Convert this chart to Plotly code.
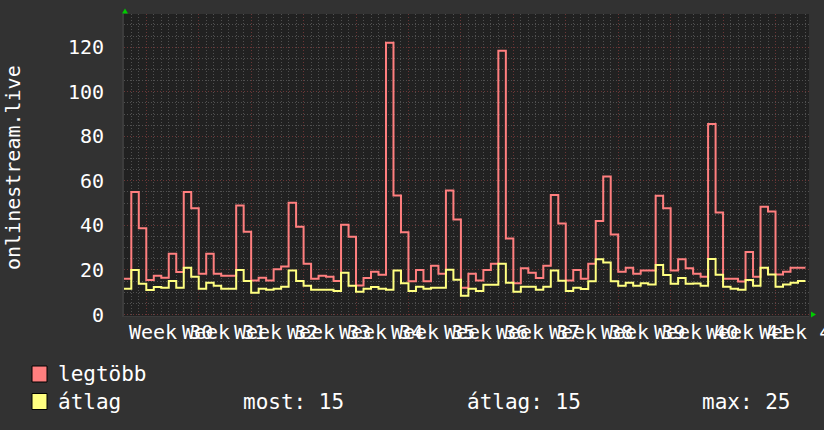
import plotly.graph_objects as go

# daily steps, x = day index (step k starts at day k-1)
days = list(range(-1, 90))
legtobb = [16, 55, 38.7, 15.5, 17.4, 16.5, 27.3, 19.1, 55, 47.7,
           18.3, 27.3, 18.3, 17.4, 17.4, 48.9, 37.2, 15.3, 16.5, 15.3,
           20.3, 21.6, 50.2, 39.4, 22.8, 16.1, 17.4, 17, 15, 40.3,
           34.9, 13, 16.4, 19.2, 17.9, 122, 53.4, 36.9, 14.9, 20,
           14.9, 21.9, 18.3, 55.7, 42.7, 12, 18.3, 15.3, 20, 22.8,
           118.4, 34.1, 14, 20.8, 18.8, 16.4, 21.9, 53.6, 40.8, 15.3,
           20, 16.1, 22.8, 42, 61.9, 35.9, 19.2, 21, 18.3, 19.7,
           19.7, 53.3, 47.7, 19.7, 24.8, 20.8, 18.3, 17, 85.5, 45.8,
           16.1, 16.1, 14.8, 28.1, 17, 48.4, 46.2, 18, 19.2, 21, 21]
atlag = [11.6, 20, 13.8, 11, 12.3, 12, 15, 12, 21, 17,
         11.6, 14.3, 12.9, 11.6, 11.6, 20, 15, 9.8, 11.6, 11.1,
         11.6, 12.5, 19.7, 15, 12.9, 11.1, 11.1, 11.1, 10.5, 18.8,
         12.9, 10.2, 11.6, 12.3, 11.6, 11.1, 19.7, 14, 10.6, 12.5,
         11.6, 12, 12, 20.1, 15.6, 8.4, 11.6, 10.6, 13.4, 13.4,
         22.8, 14.3, 10.2, 12.5, 12.5, 11.1, 12.5, 19.7, 15.1, 10.6,
         12, 11.5, 14.9, 24.8, 23.4, 14.9, 12.9, 14.3, 12.9, 14,
         13.5, 22.2, 17.7, 13.8, 16.4, 13.8, 13.9, 12.9, 24.9, 17.9,
         12.5, 11.6, 11.1, 15.5, 12.9, 21, 18, 12.5, 13.5, 14.3, 15]
weeks = list(range(30, 43))
week_start = [2 + 7 * i for i in range(len(weeks))]
stats = [("most:", 15), ("átlag:", 15), ("max:", 25)]

RED = '#ff7f7f'
YEL = '#ffff80'
FONT = 'DejaVu Sans Mono'

W, H = 824, 430
L, R, T, B = 124, 809, 14, 316


def px(x):
    return (x - L) / (R - L)


def py(y):
    return (B - y) / (B - T)


xs = days + [days[-1] + 1]
fig = go.Figure()
fig.add_trace(go.Scatter(x=xs, y=legtobb + [legtobb[-1]], mode='lines', line_shape='hv',
                         line=dict(color=RED, width=2), hoverinfo='skip'))
fig.add_trace(go.Scatter(x=xs, y=atlag + [atlag[-1]], mode='lines', line_shape='hv',
                         line=dict(color=YEL, width=2), hoverinfo='skip'))

grid_major = '#6a3636'
grid_minor = '#505050'
fig.update_layout(
    width=W, height=H,
    margin=dict(l=L, r=W - R, t=T, b=H - B),
    paper_bgcolor='#323232', plot_bgcolor='#212121',
    font=dict(family=FONT, color='#ffffff', size=20),
    showlegend=False,
    xaxis=dict(range=[-0.975, 90.47], tickmode='array', tickvals=week_start,
               showticklabels=False, showgrid=True, gridcolor=grid_major,
               griddash='1px,2px', gridwidth=1, zeroline=False, ticks='',
               minor=dict(tickmode='linear', tick0=0, dtick=1, showgrid=True,
                          gridcolor=grid_minor, griddash='1px,2px', gridwidth=1),
               showline=True, linecolor='#3c3c3c', linewidth=1),
    yaxis=dict(range=[-0.67, 134.9], tickmode='linear', tick0=0, dtick=20,
               showgrid=True, gridcolor=grid_major, griddash='1px,2px', gridwidth=1,
               zeroline=False, ticks='', ticklabelstandoff=14,
               tickfont=dict(size=20, color='#ffffff'),
               minor=dict(tickmode='linear', tick0=0, dtick=5, showgrid=True,
                          gridcolor=grid_minor, griddash='1px,2px', gridwidth=1),
               showline=True, linecolor='#3c3c3c', linewidth=2),
)

# week labels (overlapping, as in the original)
for ws, wk in zip(week_start, weeks):
    fig.add_annotation(x=ws, xref='x', y=0, yref='paper', yanchor='top', xanchor='left',
                       xshift=-19, yshift=-2, text=f"Week {wk}", showarrow=False,
                       font=dict(size=20, color='#ffffff', family=FONT))

# y title
fig.add_annotation(x=px(13), y=py(167), xref='paper', yref='paper', text='onlinestream.live',
                   xanchor='center', yanchor='middle',
                   textangle=-90, showarrow=False, font=dict(size=20, color='#ffffff', family=FONT))

# legend
for y0, col, label in [(366, RED, 'legtöbb'), (393.5, YEL, 'átlag')]:
    fig.add_shape(type='rect', xref='paper', yref='paper', x0=px(32), x1=px(47),
                  y0=py(y0), y1=py(y0 + 16), fillcolor=col, line=dict(color='#000000', width=1))
    fig.add_annotation(x=px(56), y=py(y0 + 8), xref='paper', yref='paper',
                       xanchor='left', yanchor='middle',
                       text=label, showarrow=False, font=dict(size=21, color='#ffffff', family=FONT))
for xl, (name, val) in zip([241, 465, 700], stats):
    fig.add_annotation(x=px(xl), y=py(401.5), xref='paper', yref='paper',
                       xanchor='left', yanchor='middle',
                       text=f"{name} {val}", showarrow=False,
                       font=dict(size=21, color='#ffffff', family=FONT))

# green axis arrows
fig.add_shape(type='path', xref='paper', yref='paper',
              path=f"M {px(122)} {py(13.5)} L {px(128)} {py(13.5)} L {px(125)} {py(8.5)} Z",
              fillcolor='#00cc00', line=dict(width=0))
fig.add_shape(type='path', xref='paper', yref='paper',
              path=f"M {px(811)} {py(311.5)} L {px(811)} {py(317.5)} L {px(816)} {py(314.5)} Z",
              fillcolor='#00cc00', line=dict(width=0))

fig.write_html("out.html", config={'displayModeBar': False},
               post_script="document.body.style.margin='0';")
